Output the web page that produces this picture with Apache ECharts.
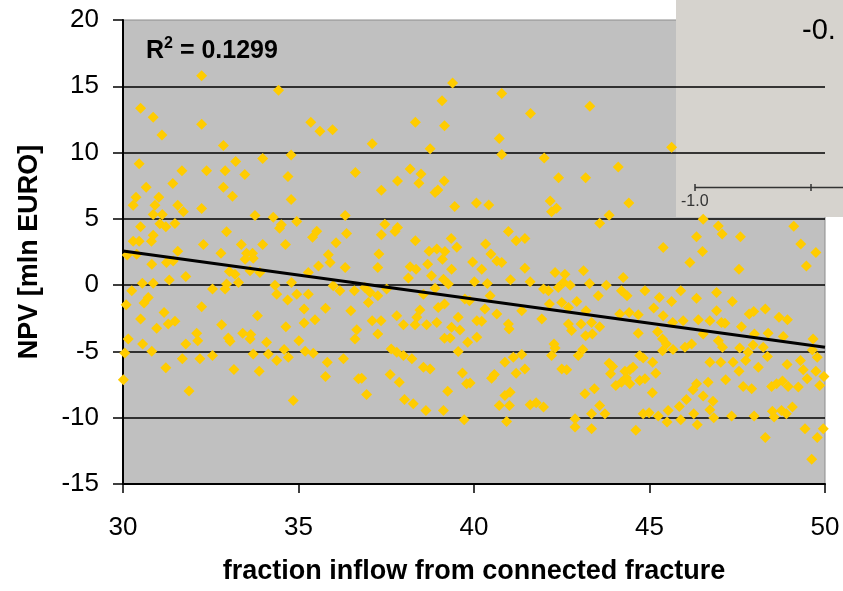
<!DOCTYPE html>
<html>
<head>
<meta charset="utf-8">
<title>NPV vs fraction inflow</title>
<script src="https://cdn.jsdelivr.net/npm/echarts@6/dist/echarts.min.js"></script>
<style>
  html, body { margin: 0; padding: 0; background: #ffffff; }
  #chart { width: 843px; height: 591px; }
</style>
</head>
<body>
<div id="chart"></div>
<script>
// Fraction of inflow from the connected fracture (%) for each realisation
const fractionInflow = [
  32.24,30.50,30.86,31.11,32.24,34.43,32.86,35.35,35.61,35.97,30.46,31.68,32.38,32.91,33.21,33.47,33.98,34.79,34.70,36.62,
  30.66,31.42,32.86,33.12,34.79,30.37,30.29,31.02,30.91,31.56,31.72,32.24,30.86,31.12,33.76,34.28,34.95,36.33,30.50,31.05,
  31.22,31.48,34.51,34.46,32.95,35.52,35.40,36.37,30.29,30.46,30.86,30.81,32.29,33.37,33.98,34.63,36.07,31.56,32.79,33.52,
  33.69,35.85,
  30.12,30.39,30.82,31.24,31.43,31.79,31.32,33.03,33.19,33.29,32.95,32.91,33.48,33.71,33.62,33.90,30.55,30.86,30.25,30.09,
  30.60,30.72,30.50,31.17,30.96,31.29,31.48,32.24,32.55,32.81,30.15,30.56,30.05,30.82,31.79,32.10,32.13,31.69,32.19,32.55,
  31.22,30.01,31.88,33.00,33.05,33.16,33.41,33.62,33.64,33.83,33.71,33.88,34.09,34.14,34.33,34.38,34.69,34.80,34.95,35.28,
  34.64,35.16,35.16,35.47,35.01,35.19,35.42,34.59,34.71,34.38,34.85,35.77,35.82,35.77,36.28,35.99,36.18,36.59,36.49,36.66,
  36.61,36.71,35.57,35.90,36.33,35.28,
  39.39,40.79,39.09,43.30,41.61,38.33,39.16,37.10,40.72,38.75,40.79,42.00,38.18,38.49,37.82,38.43,39.15,37.36,38.89,38.97,
  42.41,43.18,39.45,40.07,40.42,42.17,42.35,42.21,37.46,37.82,37.75,37.36,38.33,39.35,40.98,41.20,41.45,40.33,39.51,38.72,
  38.94,39.17,37.29,40.48,
  37.26,38.18,38.35,38.13,38.68,39.10,38.79,39.36,39.13,39.27,39.96,40.22,40.01,40.38,40.65,40.79,41.04,41.45,41.60,42.31,
  42.59,42.40,42.74,42.55,43.12,43.29,41.98,42.12,36.89,37.04,37.26,36.99,37.51,38.56,38.89,39.74,39.87,40.46,40.31,40.65,
  41.36,41.93,42.15,42.50,42.69,42.93,43.19,38.98,39.16,38.46,37.80,38.37,37.10,37.35,37.99,38.32,38.65,38.94,39.55,40.08,
  40.22,37.26,39.36,39.60,39.16,39.32,39.82,40.08,39.55,40.98,41.00,37.64,37.80,37.99,38.23,38.56,38.75,36.80,37.61,37.87,
  36.94,38.02,38.27,38.63,39.13,39.25,39.67,39.79,39.89,39.72,40.50,40.58,40.88,41.12,41.36,41.20,41.45,40.72,40.88,41.03,
  41.01,40.93,41.60,41.77,41.98,42.28,42.31,42.21,42.50,42.64,42.97,43.10,43.16,43.43,42.88,42.88,43.35,43.35,42.69,42.78,
  43.05,43.18,43.35,43.37,
  45.63,44.11,44.41,43.85,43.58,46.53,46.96,46.34,47.07,47.59,49.11,49.31,49.74,45.39,46.51,
  46.15,47.55,49.47,43.77,44.25,44.20,44.36,43.54,44.87,45.28,45.63,45.89,46.34,46.91,47.36,45.12,46.91,45.39,44.15,44.42,
  44.68,43.58,44.68,45.23,45.66,45.96,46.39,46.72,47.05,47.15,46.53,47.62,47.84,47.97,48.30,48.69,48.93,47.99,48.38,48.81,
  45.37,45.48,45.37,45.67,46.01,46.20,46.96,47.08,47.57,47.95,48.24,47.81,48.36,49.66,49.78,49.64,44.72,44.82,43.85,43.95,
  43.89,44.30,44.44,44.53,44.34,44.20,44.04,44.44,44.72,44.87,45.09,45.18,45.08,43.58,43.73,44.61,44.82,44.99,45.25,45.50,
  45.53,45.85,45.89,46.05,46.24,46.34,46.53,46.67,46.81,46.72,46.83,46.26,46.36,47.17,47.34,46.72,47.03,47.38,47.55,47.74,
  48.10,47.67,47.91,47.98,48.30,48.48,48.62,48.79,48.95,49.24,48.92,49.30,49.38,49.49,49.74,49.97,49.85,48.50,48.76,48.90,
  49.07,48.55,49.43,49.95,49.78,49.62
];

// Net present value (mln EURO) of the same realisations
const npv = [
  15.8,13.34,12.66,11.33,12.14,14.7,10.53,12.29,11.6,11.73,9.15,8.62,8.62,8.62,9.32,8.34,9.55,9.82,8.19,8.49,
  7.39,7.67,7.39,6.71,6.46,6.63,6.03,6.63,6.03,6.03,5.53,5.78,5.33,5.33,5.25,5.13,4.8,5.25,4.4,4.63,
  4.4,4.65,4.55,4.3,4.02,4.07,3.62,3.9,3.32,3.32,3.77,3.32,3.07,3.07,3.07,3.07,3.2,2.56,2.4,2.4,
  2.4,2.3,
  2.28,2.33,1.58,1.70,1.83,0.65,0.38,1.03,0.83,0.2,0.08,-0.3,1.95,2.03,1.08,0.95,0.15,0.15,-0.43,-1.48,
  -1.35,-0.93,-2.56,-2.06,-3.26,-2.93,-2.73,-1.63,-0.3,-2.98,-4.06,-4.44,-5.11,-4.99,-4.44,-3.63,-4.19,-5.56,-5.56,-5.31,
  -6.24,-7.14,-7.99,-3.98,-4.24,-6.37,-3.63,-4.06,-3.73,-2.31,-5.19,-6.49,-4.31,-5.19,0,-0.68,-1.13,0.2,-0.68,-0.68,
  -3.13,-1.8,-2.86,-2.61,-4.19,-4.99,-5.14,-4.86,-5.44,-5.69,-8.7,-1.75,-5.81,-6.89,-5.56,-0.05,-0.43,-0.43,-1.93,-3.36,
  -4.06,-7.07,1.45,1.7,1.33,0.95,
  15.25,14.45,13.9,13.5,12.94,12.29,12.02,10.66,11.07,10.29,9.86,9.59,8.76,8.38,7.86,7.68,7.86,7.16,6.98,7.18,
  8.11,8.11,5.93,6.2,6.05,6.35,5.8,5.53,4.6,4.35,4.05,3.8,3.35,3.52,4.05,3.35,3.52,3.1,2.85,2.55,
  2.72,2.53,2.34,2.34,
  1.33,1.38,1.2,0.53,1.58,1.95,0.7,1.2,0.45,0.08,1.75,1.2,0.25,0.13,1.83,1.7,0.4,1.28,0.25,0.95,
  0.83,-0.18,0,0.2,1.08,0.13,-0.3,-0.43,-0.18,-0.55,-0.8,-1.3,-0.3,-0.68,-0.23,-1.05,-1.18,-0.8,-1.8,-2.18,
  -1.93,-2.56,-1.43,-1.3,-1.68,-1.23,-1.93,-1.68,-1.43,-1.88,-2.31,-2.43,-2.68,-2.68,-2.98,-2.98,-2.98,-2.81,-2.43,-2.68,
  -2.73,-3.68,-3.18,-3.38,-4.01,-3.98,-4.31,-3.93,-5.01,-2.93,-3.31,-4.81,-5.06,-5.31,-5.56,-6.19,-6.32,-7.02,-6.74,-7.32,
  -8.25,-8.62,-8.95,-9.45,-9.45,-8.0,-6.62,-7.44,-7.39,-10.15,-7.02,-6.74,-5.81,-5.44,-5.24,-6.64,-6.32,-9.07,-8.32,-8.07,
  -9.07,-10.28,-9.02,-8.87,-9.2,-4.44,-4.74,-5.31,-6.32,-6.39,-5.31,-4.86,-8.2,-7.82,-10.08,-10.7,-9.7,-10.83,-2.93,-3.43,
  -2.93,-3.81,-2.81,-3.68,
  10.41,8.91,6.2,5.28,4.67,4.97,4.47,3.65,3.85,3.65,4.45,3.1,2.47,2.84,2.54,
  1.7,1.2,1.45,0,0.58,-0.43,-0.8,-0.8,-0.43,-0.93,-1.23,-0.43,-0.98,-0.55,-1.23,-1.73,-1.93,-2.31,-2.18,-2.06,
  -2.23,-3.13,-3.63,-3.51,-2.81,-2.68,-2.61,-2.68,-2.81,-2.88,-3.68,-3.13,-2.18,-1.98,-1.8,-2.43,-2.61,-3.68,-3.63,-3.88,
  -4.06,-4.44,-4.94,-4.86,-4.69,-4.44,-4.19,-4.69,-4.74,-4.51,-4.69,-5.06,-5.39,-4.06,-5.44,-4.89,-5.31,-5.49,-5.89,-6.14,
  -6.69,-6.49,-6.39,-6.19,-6.99,-7.32,-7.57,-7.44,-7.19,-7.07,-5.81,-6.64,-8.12,-9.07,-9.7,-10.95,-9.7,-9.62,-9.87,-10.33,
  -9.45,-9.15,-10.15,-8.62,-7.89,-7.44,-8.37,-7.32,-8.75,-9.4,-10.0,-9.7,-10.53,-7.14,-9.87,-5.81,-5.81,-5.81,-6.49,-5.69,
  -6.19,-7.64,-7.82,-9.87,-11.5,-7.64,-7.44,-7.24,-7.64,-7.69,-5.99,-5.69,-6.39,-7.07,-6.49,-6.89,-7.57,-9.52,-9.45,-9.7,
  -9.2,-9.95,-10.83,-10.83,-11.5,-13.13
];

// Linear trend line end points
const trendX = [30, 50];
const trendY = [2.58, -4.69];

// Axis ranges and steps
const xRange = [30, 50];
const yRange = [-15, 20];
const tickStep = 5;

const rSquaredText = '0.1299';
const xAxisTitle = 'fraction inflow from connected fracture';
const yAxisTitle = 'NPV [mln EURO]';

// Overlaid panel fragment in the upper right corner
const panelValueText = '-0.';
const panelTickText = '-1.0';

const FONT = "'Liberation Sans', Arial, Helvetica, sans-serif";

const points = fractionInflow.map((x, i) => [x, npv[i]]);
const trend = trendX.map((x, i) => [x, trendY[i]]);

const chart = echarts.init(document.getElementById('chart'), null, { renderer: 'canvas' });

chart.setOption({
  animation: false,
  backgroundColor: '#ffffff',
  textStyle: { fontFamily: FONT },
  title: {
    left: 141,
    top: 31,
    padding: 5,
    text: '{r|R}{s|2}{r| = ' + rSquaredText + '}',
    textStyle: {
      rich: {
        r: { fontFamily: FONT, fontSize: 25, fontWeight: 'bold', color: '#000', lineHeight: 30 },
        s: { fontFamily: FONT, fontSize: 16, fontWeight: 'bold', color: '#000', verticalAlign: 'top', lineHeight: 30, padding: [0, 0, 14, 0] }
      }
    }
  },
  grid: {
    left: 123,
    right: 18,
    top: 20,
    bottom: 107,
    show: true,
    backgroundColor: '#C0C0C0',
    borderColor: '#8c8c8c',
    borderWidth: 1
  },
  xAxis: {
    type: 'value',
    min: xRange[0],
    max: xRange[1],
    interval: tickStep,
    name: xAxisTitle,
    nameLocation: 'middle',
    nameGap: 74,
    nameTextStyle: { fontFamily: FONT, fontSize: 27, fontWeight: 'bold', color: '#000' },
    axisLine: { show: true, onZero: false, lineStyle: { color: '#000', width: 2 } },
    axisTick: { show: true, inside: false, length: 9, lineStyle: { color: '#000', width: 1.5 } },
    axisLabel: { fontFamily: FONT, fontSize: 26, color: '#000', margin: 31 },
    splitLine: { show: false }
  },
  yAxis: {
    type: 'value',
    min: yRange[0],
    max: yRange[1],
    interval: tickStep,
    name: yAxisTitle,
    nameLocation: 'middle',
    nameGap: 80,
    nameTextStyle: { fontFamily: FONT, fontSize: 27, fontWeight: 'bold', color: '#000' },
    axisLine: { show: true, onZero: false, lineStyle: { color: '#000', width: 2 } },
    axisTick: { show: true, inside: false, length: 10, lineStyle: { color: '#000', width: 1.5 } },
    axisLabel: { fontFamily: FONT, fontSize: 26, color: '#000', margin: 24 },
    splitLine: { show: true, showMinLine: false, showMaxLine: false, lineStyle: { color: '#000', width: 1.5 } }
  },
  series: [
    {
      type: 'scatter',
      data: points,
      symbol: 'diamond',
      symbolSize: 11,
      itemStyle: { color: '#FFCC00', opacity: 1 },
      z: 2
    },
    {
      type: 'line',
      data: trend,
      showSymbol: false,
      symbol: 'none',
      lineStyle: { color: '#000', width: 3 },
      z: 5
    }
  ],
  graphic: [
    {
      type: 'group',
      z: 100,
      children: [
        { type: 'rect', shape: { x: 676, y: 0, width: 167, height: 217 }, style: { fill: '#D6D3CE' } },
        { type: 'text', x: 802, y: 16, style: { text: panelValueText, font: '29px ' + FONT, fill: '#000', textVerticalAlign: 'top' } },
        { type: 'line', shape: { x1: 695, y1: 187.5, x2: 843, y2: 187.5 }, style: { stroke: '#333', lineWidth: 1.5 } },
        { type: 'line', shape: { x1: 695, y1: 184, x2: 695, y2: 191 }, style: { stroke: '#333', lineWidth: 1.5 } },
        { type: 'line', shape: { x1: 811, y1: 184, x2: 811, y2: 191 }, style: { stroke: '#333', lineWidth: 1.5 } },
        { type: 'text', x: 681, y: 194, style: { text: panelTickText, font: '16px ' + FONT, fill: '#333', textVerticalAlign: 'top' } }
      ]
    }
  ]
});
</script>
</body>
</html>
